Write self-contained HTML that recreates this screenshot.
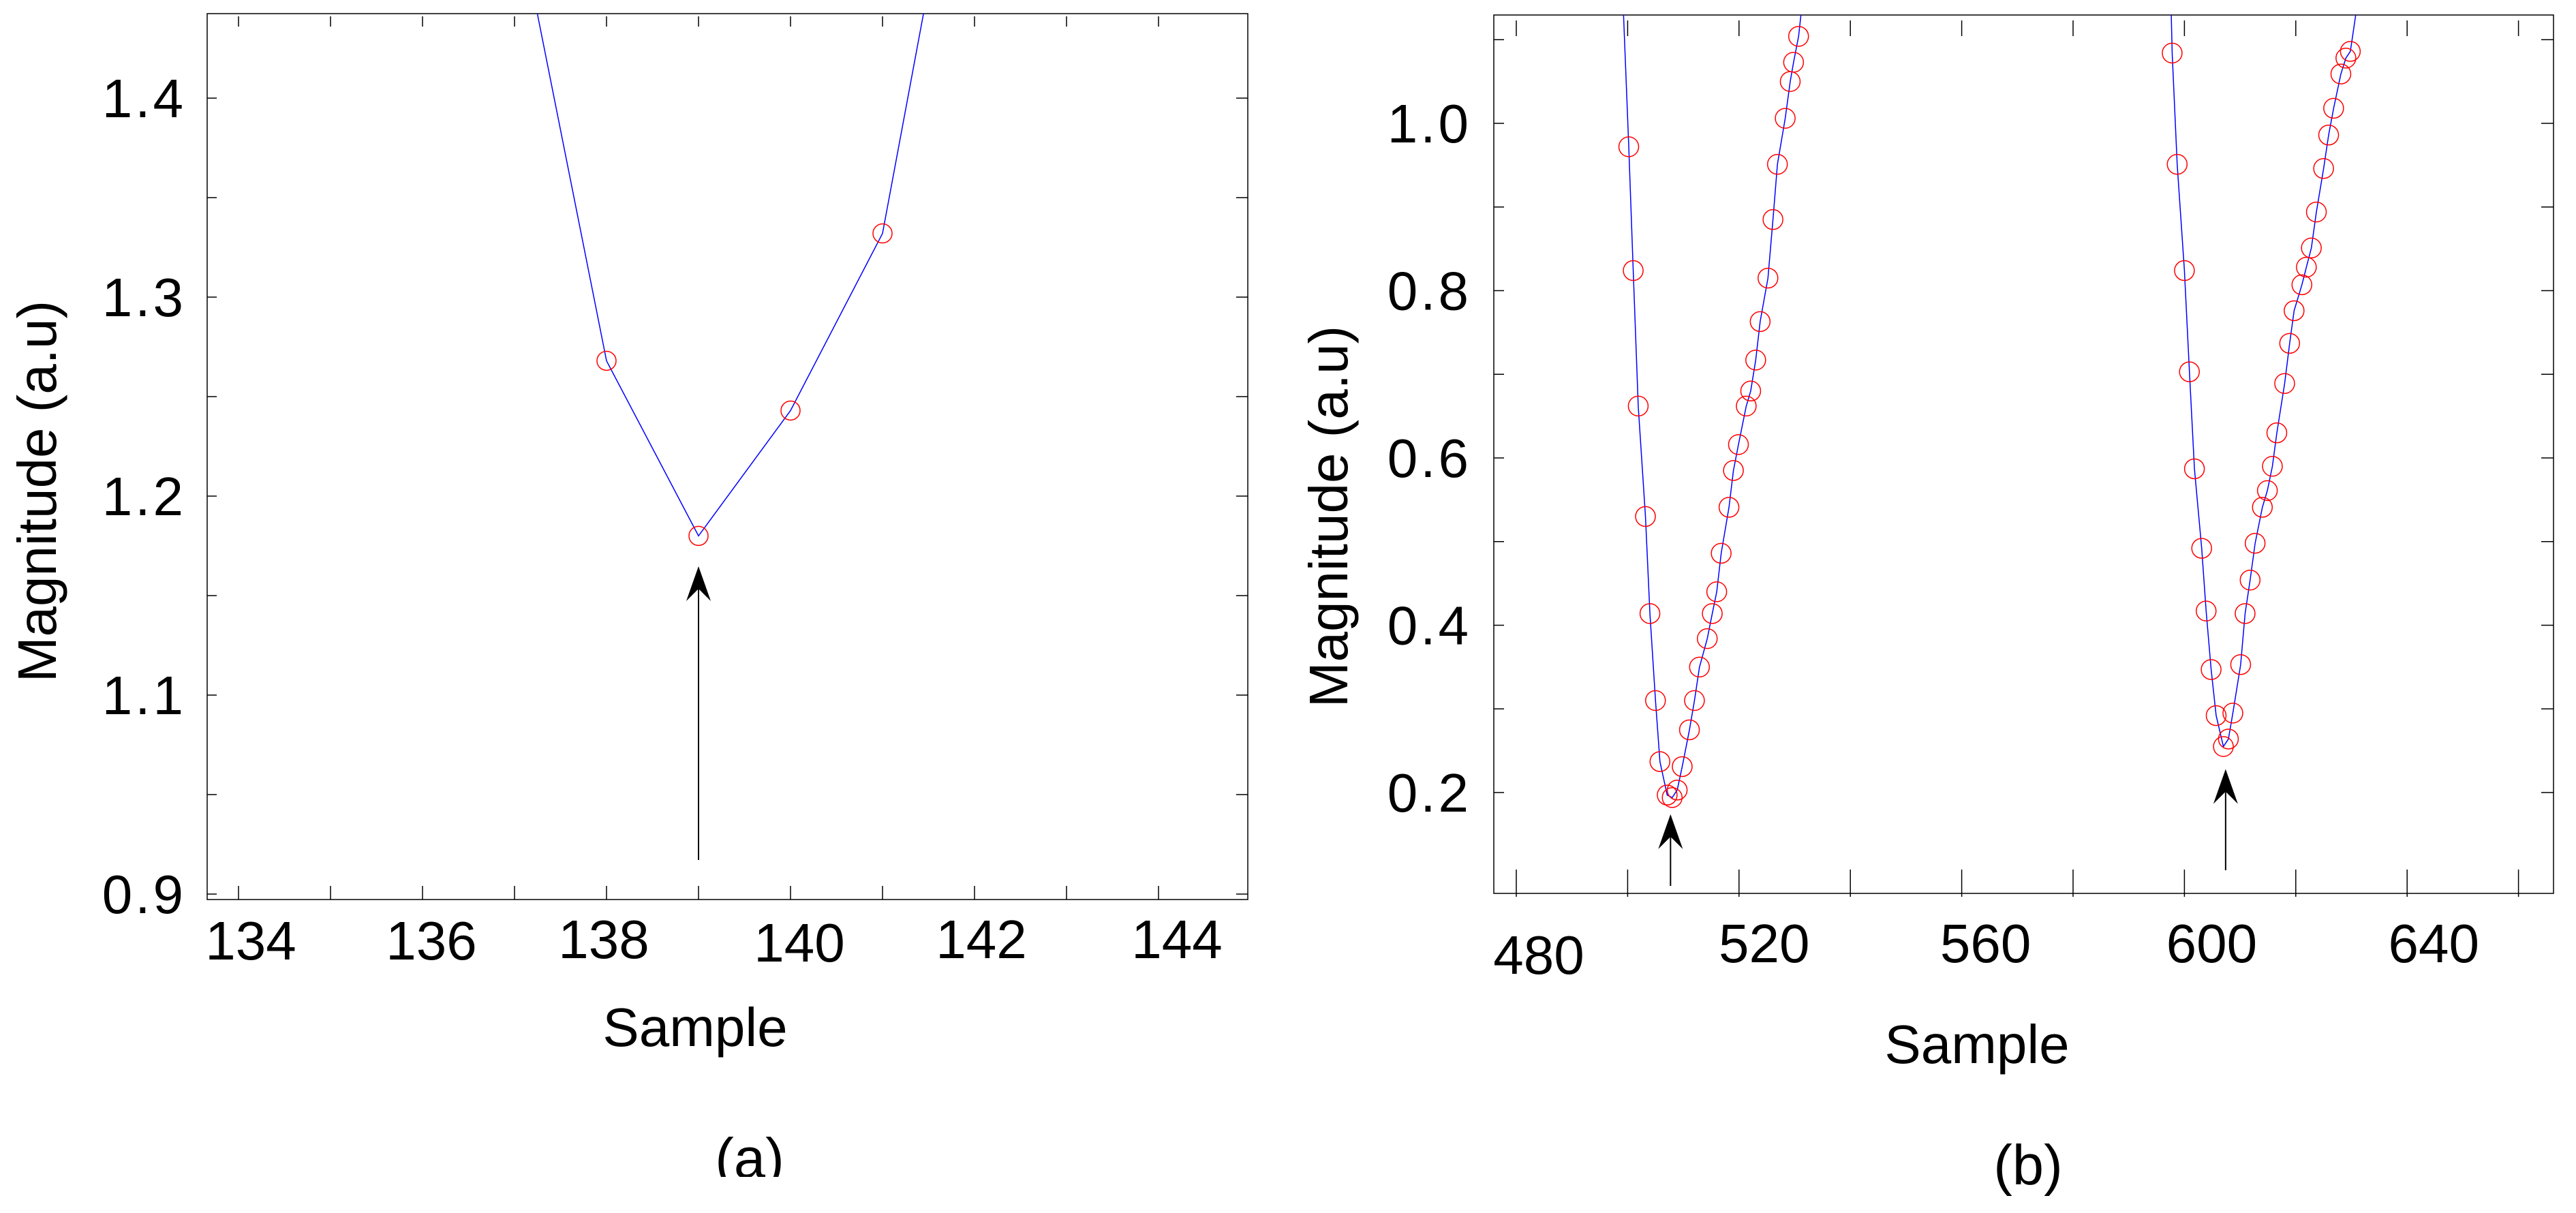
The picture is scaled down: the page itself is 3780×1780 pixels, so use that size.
<!DOCTYPE html>
<html><head><meta charset="utf-8"><style>
html,body{margin:0;padding:0;background:#fff;}
svg{display:block;font-family:"Liberation Sans",Arial,sans-serif;}
</style></head><body>
<svg id="fig" xmlns="http://www.w3.org/2000/svg" width="3780" height="1780" viewBox="0 0 3780 1780">
<rect x="0" y="0" width="3780" height="1780" fill="#fff"/>
<defs>
<clipPath id="clipA"><rect x="304" y="20" width="1527" height="1300"/></clipPath>
<clipPath id="clipB"><rect x="2192" y="22" width="1555" height="1289"/></clipPath>
<clipPath id="clipCap"><rect x="0" y="0" width="3780" height="1727"/></clipPath>
</defs>
<g id="panelA"></g>
<g id="panelB"></g>
<text x="1020" y="1535" font-size="80" text-anchor="middle">Sample</text>
<text x="2901" y="1560" font-size="80" text-anchor="middle">Sample</text>
<text transform="translate(82,721) rotate(-90)" font-size="80" text-anchor="middle">Magnitude (a.u)</text>
<text transform="translate(1977,758) rotate(-90)" font-size="80" text-anchor="middle">Magnitude (a.u)</text>
<text x="1100" y="1728" font-size="83" text-anchor="middle" clip-path="url(#clipCap)">(a)</text>
<text x="2976" y="1738" font-size="83" text-anchor="middle">(b)</text>
</svg>
<script>
// ---- Panel (a) data ----
const aSampleX = [138, 139, 140, 141];
const aMagnitude = [1.268, 1.180, 1.243, 1.332];
const aLineX = [137, 138, 139, 140, 141, 142];
const aLineY = [1.50, 1.268, 1.180, 1.243, 1.332, 1.58];
const aXTicks = [134, 136, 138, 140, 142, 144];
const aXTickLabels = ["134", "136", "138", "140", "142", "144"];
const aYTicks = [1.4, 1.3, 1.2, 1.1, 1.0];
const aYTickLabels = ["1.4", "1.3", "1.2", "1.1", "0.9"];
const aArrowX = [139];
// ---- Panel (b) data ----
const bSampleX1 = [500.2,501.0,501.9,503.2,504.0,505.0,505.8,507.1,508.0,508.9,509.8,511.1,512.0,512.9,514.3,515.2,516.0,516.8,518.2,519.0,519.9,521.3,522.1,523.0,523.8,525.2,526.1,526.9,528.3,529.2,529.8,530.7];
const bMagnitude1 = [0.972,0.824,0.662,0.530,0.414,0.310,0.237,0.197,0.194,0.203,0.231,0.275,0.310,0.350,0.384,0.414,0.440,0.486,0.541,0.585,0.616,0.662,0.680,0.717,0.763,0.815,0.885,0.951,1.006,1.050,1.073,1.104];
const bSampleX2 = [597.8,598.7,600.0,600.9,601.8,603.1,603.9,604.8,605.7,607.0,607.9,608.7,610.1,610.9,611.8,612.7,614.0,614.9,615.8,616.6,618.0,618.9,619.7,621.1,621.9,622.8,623.7,625.0,625.9,626.8,628.1,629.0,629.8];
const bMagnitude2 = [1.084,0.951,0.824,0.703,0.587,0.492,0.417,0.347,0.292,0.255,0.264,0.295,0.353,0.414,0.454,0.498,0.541,0.561,0.590,0.630,0.689,0.737,0.776,0.807,0.828,0.851,0.894,0.946,0.986,1.018,1.059,1.078,1.086];
const bLineStart = [[499.2, 1.14], [597.6, 1.14]];
const bLineEnd = [[531.3, 1.14], [631.0, 1.14]];
const bXTicks = [480, 500, 520, 540, 560, 580, 600, 620, 640, 660];
const bXLabelValues = [480, 520, 560, 600, 640];
const bXTickLabels = ["480", "520", "560", "600", "640"];
const bYTicks = [0.2, 0.3, 0.4, 0.5, 0.6, 0.7, 0.8, 0.9, 1.0, 1.1];
const bYLabelValues = [0.2, 0.4, 0.6, 0.8, 1.0];
const bYTickLabels = ["0.2", "0.4", "0.6", "0.8", "1.0"];
const bArrowX = [507.7, 607.4];
const bArrowTipY = [0.174, 0.228];

const NS = "http://www.w3.org/2000/svg";
function mk(tag, attrs, parent) {
  const e = document.createElementNS(NS, tag);
  for (const k in attrs) e.setAttribute(k, attrs[k]);
  parent.appendChild(e);
  return e;
}
const axA = {l:304, r:1831, t:20, b:1320};
const xA = v => 350 + (v - 134) * 135;
const yA = v => 1312 - (v - 1.0) * 2920;
const axB = {l:2192, r:3747, t:22, b:1311};
const xB = v => 2225 + (v - 480) * 8.17;
const yB = v => 1163 - (v - 0.2) * 1227.5;

// ---------- Panel A ----------
const gA = document.getElementById('panelA');
const frameA = mk('rect', {x:axA.l, y:axA.t, width:axA.r-axA.l, height:axA.b-axA.t, fill:'none', stroke:'#000', 'stroke-width':1.5}, gA);


for (let v = 134; v <= 144; v++) {
  const x = xA(v);
  const t1 = mk('line', {x1:x, y1:axA.b, x2:x, y2:axA.b-20, stroke:'#000', 'stroke-width':1.5}, gA);
  
  
  const t2 = mk('line', {x1:x, y1:axA.t+4, x2:x, y2:axA.t+19, stroke:'#000', 'stroke-width':1.5}, gA);
  
  
}
for (let i = 0; i <= 8; i++) {
  const y = yA(1.0 + i * 0.05);
  if (y < axA.t) continue;
  const t1 = mk('line', {x1:axA.l, y1:y, x2:axA.l+14, y2:y, stroke:'#000', 'stroke-width':1.5}, gA);
  
  
  const t2 = mk('line', {x1:axA.r, y1:y, x2:axA.r-17, y2:y, stroke:'#000', 'stroke-width':1.5}, gA);
  
  
}
const aLabelOffsets = [18, 13, -4, 13, 10, 27];
const aLabelBase = [1408, 1408, 1406, 1411, 1406, 1406];
aXTicks.forEach((v, i) => {
  const t = mk('text', {x:xA(v)+aLabelOffsets[i], y:aLabelBase[i], 'font-size':80, 'text-anchor':'middle'}, gA);
  t.textContent = aXTickLabels[i];
  
  
});
aYTicks.forEach((v, i) => {
  const t = mk('text', {x:273, y:yA(v)+28, 'font-size':80, 'text-anchor':'end', 'letter-spacing':4}, gA);
  t.textContent = aYTickLabels[i];
  
  
});
const clipGA = mk('g', {'clip-path':'url(#clipA)'}, gA);
const lineA = mk('polyline', {points: aLineX.map((v,i)=>xA(v)+','+yA(aLineY[i])).join(' '), fill:'none', stroke:'#0000ff', 'stroke-width':1.5}, clipGA);


aSampleX.forEach((v, i) => {
  const c = mk('circle', {cx:xA(v), cy:yA(aMagnitude[i]), r:14, fill:'none', stroke:'#ff0000', 'stroke-width':1.5}, clipGA);
  
  
});
function arrow(parent, x, tipY, bottomY, name) {
  const l = mk('line', {x1:x, y1:tipY+20, x2:x, y2:bottomY, stroke:'#000', 'stroke-width':2}, parent);
  
  
  const h = mk('polygon', {points:`${x},${tipY} ${x+18},${tipY+51} ${x},${tipY+33} ${x-18},${tipY+51}`, fill:'#000'}, parent);
  
  
}
aArrowX.forEach(v => arrow(gA, xA(v), 831, 1262, 'minimum-arrow-a'));

// ---------- Panel B ----------
const gB = document.getElementById('panelB');
const frameB = mk('rect', {x:axB.l, y:axB.t, width:axB.r-axB.l, height:axB.b-axB.t, fill:'none', stroke:'#000', 'stroke-width':1.5}, gB);


bXTicks.forEach(v => {
  const x = xB(v);
  const t1 = mk('line', {x1:x, y1:axB.b+5, x2:x, y2:axB.b-35, stroke:'#000', 'stroke-width':1.5}, gB);
  
  
  const t2 = mk('line', {x1:x, y1:axB.t+8, x2:x, y2:axB.t+31, stroke:'#000', 'stroke-width':1.5}, gB);
  
  
});
bYTicks.forEach(v => {
  const y = yB(v);
  const t1 = mk('line', {x1:axB.l, y1:y, x2:axB.l+15, y2:y, stroke:'#000', 'stroke-width':1.5}, gB);
  
  
  const t2 = mk('line', {x1:axB.r, y1:y, x2:axB.r-18, y2:y, stroke:'#000', 'stroke-width':1.5}, gB);
  
  
});
const bLabelOffsets = [33, 37, 35, 40, 39];
const bLabelBase = [1429, 1412, 1412, 1412, 1412];
bXLabelValues.forEach((v, i) => {
  const t = mk('text', {x:xB(v)+bLabelOffsets[i], y:bLabelBase[i], 'font-size':80, 'text-anchor':'middle'}, gB);
  t.textContent = bXTickLabels[i];
  
  
});
bYLabelValues.forEach((v, i) => {
  const t = mk('text', {x:2159, y:yB(v)+28, 'font-size':80, 'text-anchor':'end', 'letter-spacing':4}, gB);
  t.textContent = bYTickLabels[i];
  
  
});
const clipGB = mk('g', {'clip-path':'url(#clipB)'}, gB);
[[bSampleX1, bMagnitude1], [bSampleX2, bMagnitude2]].forEach((s, k) => {
  const pts = [bLineStart[k]].concat(s[0].map((v,i)=>[v, s[1][i]])).concat([bLineEnd[k]]);
  const pl = mk('polyline', {points: pts.map(p=>xB(p[0])+','+yB(p[1])).join(' '), fill:'none', stroke:'#0000ff', 'stroke-width':1.5}, clipGB);
  
  
  s[0].forEach((v, i) => {
    const c = mk('circle', {cx:xB(v), cy:yB(s[1][i]), r:14.5, fill:'none', stroke:'#ff0000', 'stroke-width':1.5}, clipGB);
    
    
  });
});
const bArrowBottom = [1300, 1277];
bArrowX.forEach((v, i) => arrow(gB, xB(v), yB(bArrowTipY[i]), bArrowBottom[i], 'minimum-arrow-b' + (i+1)));
</script>
</body></html>
